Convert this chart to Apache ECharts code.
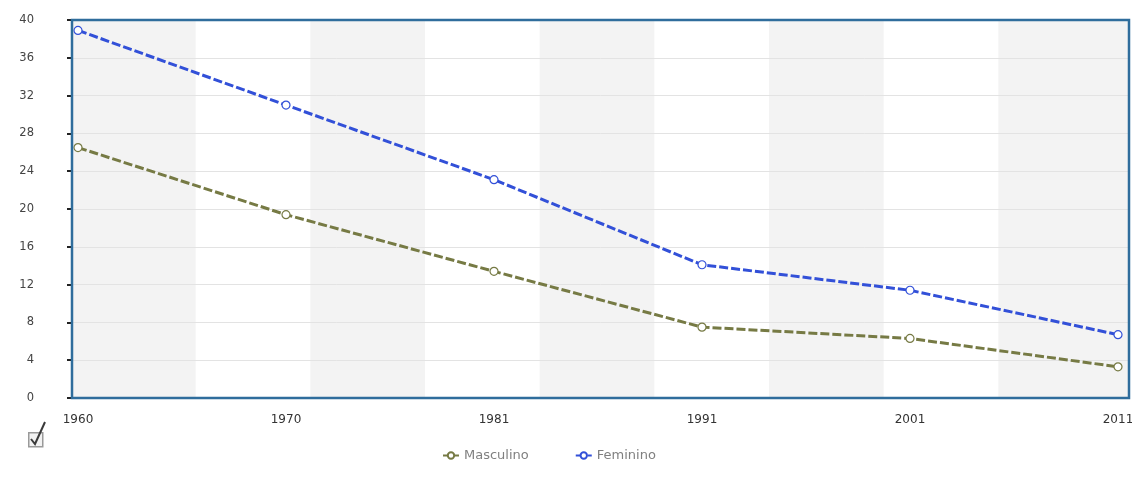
<!DOCTYPE html>
<html>
<head>
<meta charset="utf-8">
<script src="https://cdn.jsdelivr.net/npm/echarts@6/dist/echarts.min.js"></script>
<style>
  html, body { margin: 0; padding: 0; background: #ffffff; }
  #chart { width: 1132px; height: 489px; }
</style>
</head>
<body>
<div id="chart"></div>
<script>
// Census years and the two series (percent)
const years = ['1960', '1970', '1981', '1991', '2001', '2011'];
const masculino = [26.5, 19.4, 13.4, 7.5, 6.3, 3.3];
const feminino = [38.9, 31.0, 23.1, 14.1, 11.4, 6.7];
const yMin = 0;
const yMax = 40;
const yStep = 4;

const FONT = 'DejaVu Sans, Verdana, sans-serif';
const BLUE = '#3250d8';
const OLIVE = '#767a44';

const chart = echarts.init(document.getElementById('chart'), null, { renderer: 'canvas' });

const hiddenAxis = (gridIndex, extra) => Object.assign({ gridIndex, type: 'value', show: false }, extra || {});
const box = (extra) => Object.assign({ top: 20, bottom: 91, outerBoundsMode: 'none', containLabel: false }, extra);

chart.setOption({
  backgroundColor: '#ffffff',
  animation: false,
  grid: [
    // plot background (grey), also the colour of the odd bands
    box({ left: 72, right: 3, show: true, backgroundColor: '#f3f3f3', borderWidth: 0, z: 0 }),
    // alternating vertical bands
    box({ left: 81, right: 19 }),
    // data area
    box({ left: 78, right: 14 }),
    // frame around the plot and the visible value axis
    box({ left: 72, right: 3, show: true, backgroundColor: 'transparent',
      borderColor: '#2f6d9c', borderWidth: 2.5, z: 4 })
  ],
  xAxis: [
    hiddenAxis(0),
    {
      gridIndex: 1, type: 'value', min: 0, max: 9, interval: 1, z: 0,
      axisLine: { show: false }, axisTick: { show: false }, axisLabel: { show: false },
      splitLine: { show: false },
      splitArea: { show: true, areaStyle: { color: ['rgba(0,0,0,0)', '#ffffff'] } }
    },
    {
      gridIndex: 2, type: 'category', data: years, boundaryGap: false,
      axisLine: { show: false }, axisTick: { show: false },
      axisLabel: { margin: 16, color: '#333', fontSize: 12, fontFamily: FONT },
      splitLine: { show: false }
    },
    hiddenAxis(3)
  ],
  yAxis: [
    hiddenAxis(0, { min: yMin, max: yMax }),
    hiddenAxis(1, { min: yMin, max: yMax }),
    hiddenAxis(2, { min: yMin, max: yMax, interval: yStep }),
    {
      gridIndex: 3, type: 'value', min: yMin, max: yMax, interval: yStep, offset: 36, z: 1,
      axisLine: { show: true, lineStyle: { color: '#222', width: 2 } },
      axisTick: { show: true, length: 5, lineStyle: { color: '#222', width: 2 } },
      axisLabel: { margin: 2, color: '#444', fontSize: 11.5, fontFamily: FONT },
      splitLine: { show: true, lineStyle: { color: '#e3e3e3', width: 1 } }
    }
  ],
  legend: {
    left: 437,
    top: 444,
    itemWidth: 16,
    itemHeight: 8,
    itemGap: 46,
    textStyle: { color: '#808080', fontSize: 13, fontFamily: FONT },
    data: ['Masculino', 'Feminino']
  },
  series: [
    {
      name: 'Masculino', type: 'line', xAxisIndex: 2, yAxisIndex: 2, z: 3,
      data: masculino,
      symbol: 'circle', symbolSize: 8,
      itemStyle: { color: '#ffffff', borderColor: OLIVE, borderWidth: 1.2 },
      lineStyle: { color: OLIVE, width: 3, type: [9, 3] },
      emphasis: { disabled: true }
    },
    {
      name: 'Feminino', type: 'line', xAxisIndex: 2, yAxisIndex: 2, z: 3,
      data: feminino,
      symbol: 'circle', symbolSize: 8,
      itemStyle: { color: '#ffffff', borderColor: BLUE, borderWidth: 1.2 },
      lineStyle: { color: BLUE, width: 3, type: [9, 3] },
      emphasis: { disabled: true }
    }
  ],
  graphic: [
    // small checkbox control under the value axis
    {
      type: 'rect', left: 28, top: 432, z: 10,
      shape: { width: 14, height: 14 },
      style: { fill: '#f2f2f2', stroke: '#9a9a9a', lineWidth: 1.5 }
    },
    {
      type: 'polyline', z: 11,
      shape: { points: [[31, 439], [35, 444], [45, 422]] },
      style: { stroke: '#3a3a3a', lineWidth: 2, fill: null }
    }
  ]
});
</script>
</body>
</html>
